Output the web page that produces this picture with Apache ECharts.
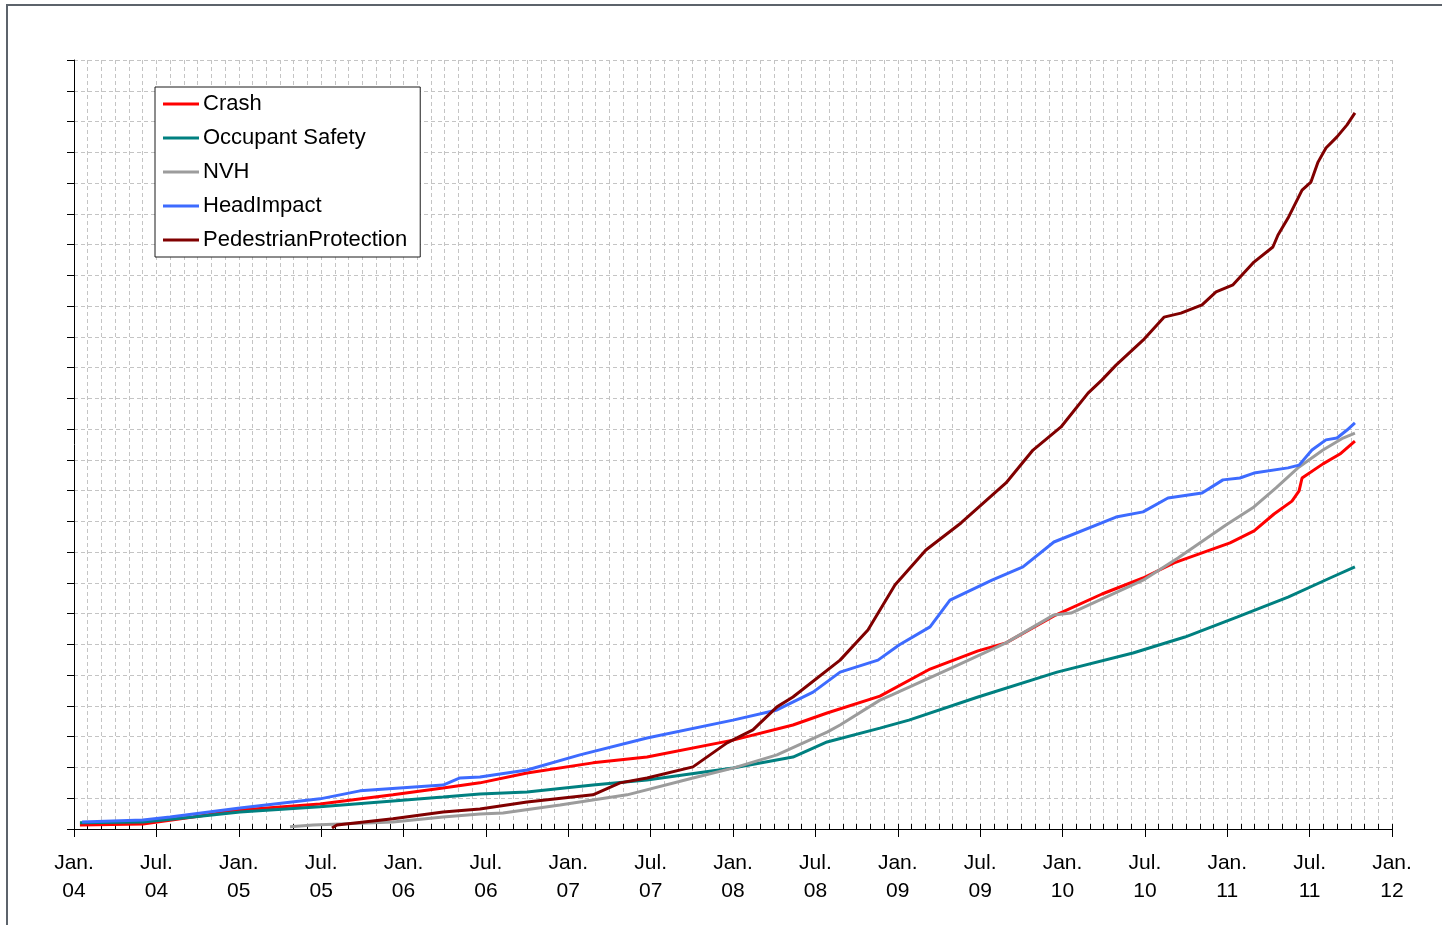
<!DOCTYPE html>
<html>
<head>
<meta charset="utf-8">
<title>Cumulative development by discipline</title>
<script src="https://cdn.jsdelivr.net/npm/echarts@6/dist/echarts.min.js"></script>
<style>
  html, body { margin: 0; padding: 0; background: #fff; }
  #frame { position: absolute; left: 6px; top: 4px; width: 1500px; height: 1000px;
           border-left: 2px solid #5c636b; border-top: 2px solid #5c636b; }
  #chart { position: absolute; left: 0; top: 0; width: 1442px; height: 925px; }
</style>
</head>
<body>
<div id="frame"></div>
<div id="chart"></div>
<script>
// Series as [decimal year, cumulative count in axis units]
const seriesNames = ['Crash', 'Occupant Safety', 'NVH', 'HeadImpact', 'PedestrianProtection'];
const seriesColors = ['#ff0000', '#008080', '#9c9c9c', '#3d6bff', '#800000'];

const crash = [
  [2004.036, 0.13], [2004.419, 0.16], [2004.723, 0.39], [2005.008, 0.62], [2005.493, 0.81],
  [2005.936, 1.11], [2006.240, 1.33], [2006.464, 1.50], [2006.750, 1.82], [2007.150, 2.15],
  [2007.478, 2.34], [2008.000, 2.89], [2008.364, 3.38], [2008.571, 3.77], [2008.892, 4.32],
  [2009.196, 5.20], [2009.487, 5.79], [2009.657, 6.05], [2009.948, 6.93], [2010.240, 7.64],
  [2010.489, 8.16], [2010.677, 8.65], [2011.017, 9.30], [2011.163, 9.69], [2011.284, 10.24],
  [2011.393, 10.66], [2011.436, 10.99], [2011.454, 11.41], [2011.581, 11.87], [2011.684, 12.19],
  [2011.775, 12.61]
];

const occupantSafety = [
  [2004.036, 0.20], [2004.419, 0.23], [2004.723, 0.39], [2005.008, 0.55], [2005.493, 0.72],
  [2005.936, 0.91], [2006.240, 1.04], [2006.464, 1.14], [2006.750, 1.20], [2007.150, 1.43],
  [2007.478, 1.59], [2008.000, 1.98], [2008.364, 2.34], [2008.571, 2.83], [2008.892, 3.28],
  [2009.068, 3.54], [2009.487, 4.29], [2009.967, 5.10], [2010.428, 5.72], [2010.743, 6.24],
  [2011.059, 6.89], [2011.369, 7.54], [2011.624, 8.16], [2011.775, 8.52]
];

const nvh = [
  [2005.311, 0.07], [2005.451, 0.13], [2005.936, 0.23], [2006.240, 0.39], [2006.464, 0.49],
  [2006.604, 0.52], [2006.950, 0.78], [2007.357, 1.11], [2007.757, 1.66], [2008.000, 1.98],
  [2008.267, 2.41], [2008.571, 3.15], [2008.650, 3.38], [2008.892, 4.19], [2008.965, 4.36],
  [2009.341, 5.27], [2009.657, 6.05], [2009.948, 6.96], [2010.052, 7.02], [2010.489, 8.09],
  [2010.701, 8.81], [2010.992, 9.88], [2011.162, 10.47], [2011.296, 11.09], [2011.436, 11.77],
  [2011.581, 12.32], [2011.703, 12.71], [2011.775, 12.87]
];

const headImpact = [
  [2004.049, 0.23], [2004.419, 0.29], [2004.583, 0.39], [2005.008, 0.68], [2005.493, 0.98],
  [2005.736, 1.24], [2006.240, 1.43], [2006.343, 1.66], [2006.464, 1.69], [2006.750, 1.92],
  [2007.071, 2.41], [2007.478, 2.96], [2008.000, 3.54], [2008.267, 3.87], [2008.486, 4.45],
  [2008.650, 5.10], [2008.880, 5.49], [2009.008, 5.98], [2009.196, 6.57], [2009.317, 7.44],
  [2009.572, 8.09], [2009.760, 8.52], [2009.948, 9.33], [2010.325, 10.14], [2010.489, 10.31],
  [2010.640, 10.76], [2010.847, 10.92], [2010.974, 11.35], [2011.077, 11.41], [2011.162, 11.57],
  [2011.369, 11.74], [2011.436, 11.83], [2011.514, 12.32], [2011.599, 12.65], [2011.666, 12.71],
  [2011.727, 12.97], [2011.775, 13.20]
];

const pedestrianProtection = [
  [2005.566, 0.03], [2005.596, 0.13], [2005.936, 0.33], [2006.240, 0.55], [2006.464, 0.65],
  [2006.750, 0.88], [2007.150, 1.11], [2007.314, 1.50], [2007.478, 1.66], [2007.757, 2.02],
  [2007.964, 2.80], [2008.121, 3.22], [2008.267, 3.97], [2008.364, 4.29], [2008.650, 5.49],
  [2008.819, 6.47], [2008.983, 7.93], [2009.171, 9.07], [2009.384, 9.95], [2009.657, 11.25],
  [2009.821, 12.32], [2009.991, 13.07], [2010.155, 14.17], [2010.240, 14.60], [2010.325, 15.08],
  [2010.489, 15.89], [2010.616, 16.64], [2010.719, 16.77], [2010.847, 17.04], [2010.932, 17.46],
  [2011.035, 17.69], [2011.162, 18.43], [2011.277, 18.92], [2011.308, 19.31], [2011.369, 19.86],
  [2011.454, 20.77], [2011.508, 21.03], [2011.551, 21.68], [2011.599, 22.14], [2011.666, 22.50],
  [2011.727, 22.89], [2011.775, 23.28]
];

const allSeries = [crash, occupantSafety, nvh, headImpact, pedestrianProtection];

// Axis extents: months from Jan 2004 to Jan 2012, y in 25 grid steps
const START_YEAR = 2004;
const X_MAX_MONTHS = 96;
const Y_MAX = 25;

const toMonths = (pts) => pts.map(([yr, v]) => [(yr - START_YEAR) * 12, v]);
const pad2 = (n) => (n < 10 ? '0' : '') + n;

const font = '"Liberation Sans", Arial, sans-serif';
const gridLine = { show: true, lineStyle: { color: '#c4c4c4', type: [4, 3], width: 1 } };

const chart = echarts.init(document.getElementById('chart'), null, { renderer: 'canvas' });

chart.setOption({
  animation: false,
  backgroundColor: 'transparent',
  grid: { left: 74, top: 60, width: 1318, height: 769, containLabel: false },
  legend: {
    orient: 'vertical',
    left: 155, top: 87,
    backgroundColor: '#fff',
    borderColor: '#1a1a1a', borderWidth: 1, borderRadius: 0,
    padding: [6, 13, 6, 8],
    itemGap: 12,
    itemWidth: 36, itemHeight: 3,
    icon: 'rect',
    textStyle: { fontFamily: font, fontSize: 22, color: '#000', lineHeight: 21, padding: [0, 0, 0, -1] },
    data: seriesNames
  },
  xAxis: [
    {
      // month grid with short inward ticks
      type: 'value', min: 0, max: X_MAX_MONTHS, interval: 1, gridIndex: 0,
      axisLine: { show: false },
      axisTick: { show: true, inside: true, length: 5, lineStyle: { color: '#000', width: 1 } },
      axisLabel: { show: false },
      splitLine: gridLine
    },
    {
      // half-year ticks and labels
      type: 'value', min: 0, max: X_MAX_MONTHS, interval: 6, gridIndex: 0, position: 'bottom',
      axisLine: { show: true, onZero: false, lineStyle: { color: '#000', width: 1 } },
      axisTick: { show: true, length: 8, lineStyle: { color: '#000', width: 1 } },
      splitLine: { show: false },
      axisLabel: {
        show: true, margin: 20,
        fontFamily: font, fontSize: 21, color: '#000', lineHeight: 28,
        formatter: (v) => (v % 12 === 0 ? 'Jan.' : 'Jul.') + '\n' + pad2(4 + Math.floor(v / 12))
      }
    }
  ],
  yAxis: {
    type: 'value', min: 0, max: Y_MAX, interval: 1,
    axisLine: { show: true, lineStyle: { color: '#000', width: 1 } },
    axisTick: { show: true, length: 7, lineStyle: { color: '#000', width: 1 } },
    axisLabel: { show: false },
    splitLine: gridLine
  },
  series: allSeries.map((pts, i) => ({
    name: seriesNames[i],
    type: 'line',
    xAxisIndex: 1,
    data: toMonths(pts),
    symbol: 'none',
    color: seriesColors[i],
    lineStyle: { width: 3, color: seriesColors[i] },
    z: 2 + i
  }))
});
</script>
</body>
</html>
